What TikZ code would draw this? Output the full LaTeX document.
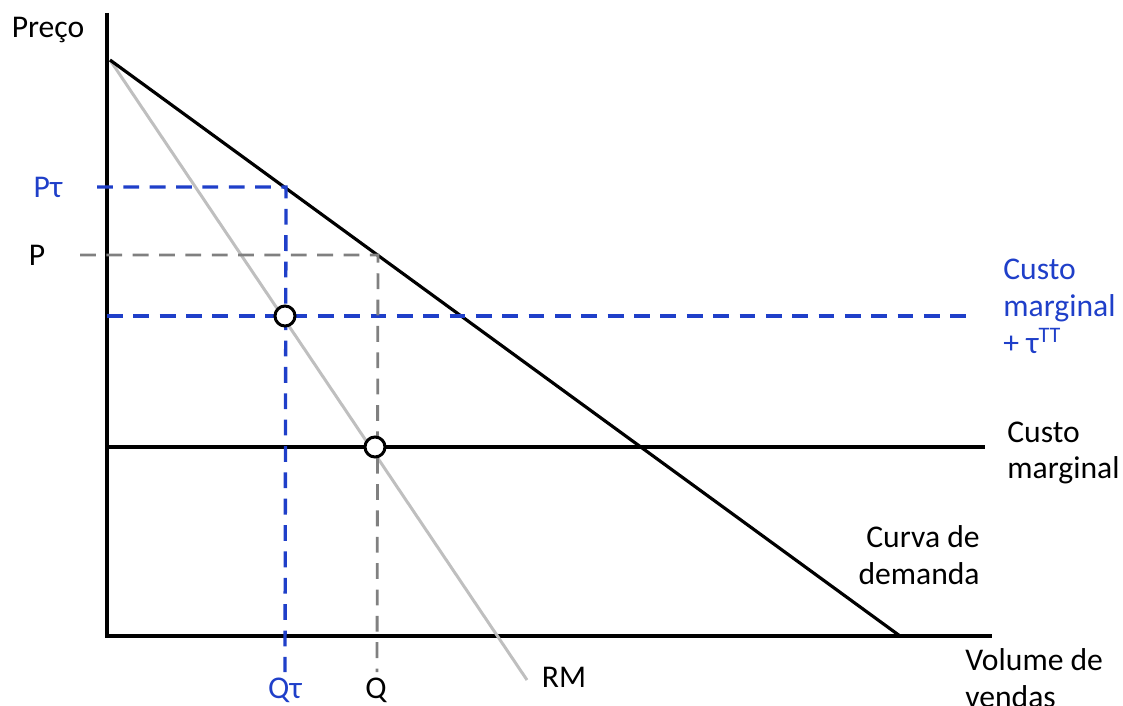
\documentclass[tikz,border=0pt]{standalone}
\usepackage{fontspec}
\setmainfont{Carlito}
\usetikzlibrary{calc,positioning}
\definecolor{taxBlue}{HTML}{1F3FC9}
\definecolor{refGray}{HTML}{808080}
\definecolor{rmGray}{HTML}{BFBFBF}

\begin{document}
\begin{tikzpicture}[x=0.02cm,y=-0.02cm,
  font=\fontsize{18}{21}\selectfont,
  axisline/.style={draw=black,line width=1.9pt},
  curveline/.style={draw=black,line width=1.8pt},
  rmline/.style={draw=rmGray,line width=1.7pt},
  taxguide/.style={draw=taxBlue,line width=1.9pt,dash pattern=on 9pt off 6pt},
  baseguide/.style={draw=refGray,line width=1.6pt,dash pattern=on 9pt off 6pt},
  optimum/.style={circle,draw=black,fill=white,line width=1.7pt,inner sep=0pt,minimum size=0.4cm},
  axislabel/.style={inner sep=0pt,align=left},
  taxlabel/.style={axislabel,text=taxBlue}]
  \path[use as bounding box] (0,0) rectangle (1123,706);

  % axes and the two curves start at the same intercept
  \foreach \p/\x/\y in {ytop/107/13,origin/107/636,xend/992/636,top/110/60,dend/900/636,rmend/527/680}
    {\coordinate (\p) at (\x,\y);}
  \draw[axisline] (ytop)--(origin)--(xend);
  \draw[rmline] (top)--(rmend);
  \draw[curveline] (top)--(dend);

  % marginal cost lines
  \coordinate (mcstart) at (107,447);
  \coordinate (mcend) at (985,447);
  \coordinate (mctstart) at (107,316);
  \coordinate (mctend) at (975,316);
  \draw[curveline] (mcstart)--(mcend);
  \draw[taxguide] (mctstart)--(mctend);

  % price and quantity guides
  \foreach \p/\x/\y in {ptl/97/187,ptd/286/187,qtb/285/672,pl/80/255,pd/378/255,qb/377/672}
    {\coordinate (\p) at (\x,\y);}
  \draw[taxguide] (ptl)--(ptd)--(qtb);
  \draw[baseguide] (pl)--(pd)--(qb);

  \node[optimum] (eqtax) at (285,316) {};
  \node[optimum] (eq) at (375,447) {};

  % labels
  \node[axislabel] (preco) at (48,30) {Preço};
  \node[taxlabel] (ptau) at (48,187) {Pτ};
  \node[axislabel] (plab) at (37,255) {P};
  \node[taxlabel] (qtau) at (285,690) {Qτ};
  \node[axislabel] (qlab) at (376,690) {Q};
  \node[axislabel] (rm) at (564,677) {RM};
  \node[taxlabel,anchor=west] (cmt) at (1003,306)
    {Custo\\marginal\\+ τ\textsuperscript{TT}};
  \node[axislabel,anchor=west] (cm) at (1007,453) {Custo\\marginal};
  \node[axislabel,anchor=east,align=right] (demanda) at (980,555) {Curva de\\demanda};
  \node[axislabel,anchor=west] (volume) at (965,678) {Volume de\\vendas};
\end{tikzpicture}
\end{document}
